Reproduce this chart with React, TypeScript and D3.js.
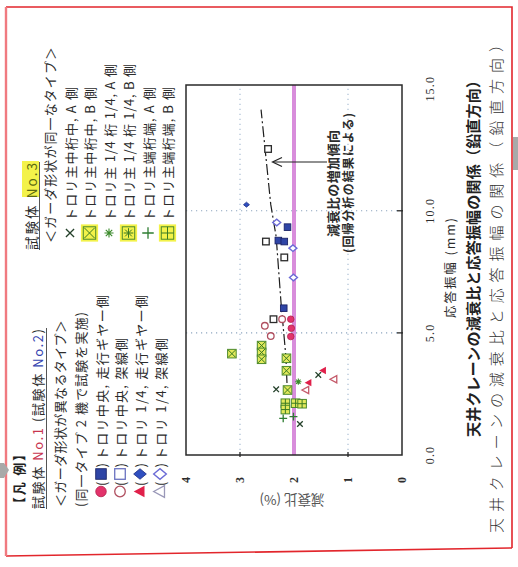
import React from "react";
import * as d3 from "d3";

// ---------- data ----------
const ampTicks = [0, 5, 10, 15];
const ampTickLabels = ["0.0", "5.0", "10.0", "15.0"];
const dampTicks = [0, 1, 2, 3, 4];
const dampTickLabels = ["0", "1", "2", "3", "4"];
const gridAmp = [5, 10];
const gridDamp = [1, 3];
const refDamping = 2;

// series: response amplitude (mm) / damping ratio (%)
const filledCircleAmp = [5.56, 5.19, 4.85];
const filledCircleDamp = [2.06, 2.05, 2.06];
const openCircleAmp = [5.56, 5.29, 4.87];
const openCircleDamp = [2.22, 2.54, 2.43];
const filledSquareAmp = [9.33, 8.78, 8.74, 6.01];
const filledSquareDamp = [2.12, 2.29, 2.18, 2.19];
const openSquareAmp = [12.53, 8.74, 8.09, 5.56];
const openSquareDamp = [2.48, 2.52, 2.18, 2.38];
const filledDiamondAmp = [10.25];
const filledDiamondDamp = [2.88];
const openDiamondAmp = [9.52, 8.47, 7.27];
const openDiamondDamp = [2.32, 2.02, 2.01];
const filledTriAmp = [3.46, 2.96];
const filledTriDamp = [1.46, 1.73];
const openTriAmp = [3.1, 2.66];
const openTriDamp = [1.26, 1.78];
const crossAmp = [3.28, 2.69, 1.27];
const crossDamp = [1.55, 2.33, 1.89];
const boxCrossAmp = [4.15, 4.48, 4.2, 3.92, 3.96, 3.45, 2.66];
const boxCrossDamp = [3.15, 2.6, 2.6, 2.6, 2.14, 2.14, 2.12];
const asteriskAmp = [3.0];
const asteriskDamp = [1.92];
const boxPlusAmp = [2.12, 1.86, 2.12, 2.1];
const boxPlusDamp = [2.16, 2.16, 1.97, 1.85];
const plusAmp = [1.5, 1.57];
const plusDamp = [2.2, 2.01];

// regression trend
const trendAmp = [2.95, 4.02, 5.25, 6.23, 8.93, 10.25, 14.14];
const trendDamp = [2.13, 2.15, 2.2, 2.24, 2.33, 2.43, 2.61];

const legend1Rows = [
  "トロリ中央, 走行ギヤー側",
  "トロリ中央, 架線側",
  "トロリ 1/4, 走行ギヤー側",
  "トロリ 1/4, 架線側",
];
const legend1Symbols = [
  ["circleFilled", "squareFilled"],
  ["circleOpen", "squareOpen"],
  ["triFilled", "diamondFilled"],
  ["triOpen", "diamondOpen"],
];
const legend3Rows = [
  "トロリ主中桁中, A 側",
  "トロリ主中桁中, B 側",
  "トロリ主 1/4 桁 1/4, A 側",
  "トロリ主 1/4 桁 1/4, B 側",
  "トロリ主端桁端, A 側",
  "トロリ主端桁端, B 側",
];
const legend3Symbols = ["cross", "boxCross", "asterisk", "boxAsterisk", "plus", "boxPlus"];

const JP = "'Noto Sans CJK JP', 'Noto Sans', sans-serif";
const NUM = "'Liberation Serif', 'DejaVu Serif', serif";

function Mark({ type, x, y, k = 1, hl = false }: { type: string; x: number; y: number; k?: number; hl?: boolean }) {
  const s = 3.3 * k;
  const crossPath = (r: number) => `M${x - r},${y - r}L${x + r},${y + r}M${x + r},${y - r}L${x - r},${y + r}`;
  const plusPath = (r: number) => `M${x - r},${y}L${x + r},${y}M${x},${y - r}L${x},${y + r}`;
  const astPath = (r: number) => {
    let d = "";
    for (let i = 0; i < 4; i++) {
      const a = (i * Math.PI) / 4;
      d += `M${x - r * Math.cos(a)},${y - r * Math.sin(a)}L${x + r * Math.cos(a)},${y + r * Math.sin(a)}`;
    }
    return d;
  };
  const box = (inner: string) => (
    <g>
      {hl && <rect x={x - s * 1.8} y={y - s * 1.8} width={s * 3.6} height={s * 3.6} fill="#f3f24a" />}
      <rect x={x - s * 1.3} y={y - s * 1.3} width={s * 2.6} height={s * 2.6} fill={hl ? "#f3f24a" : "#e2e95c"} stroke="#4c8a2c" strokeWidth={1} />
      <path d={inner} stroke="#3a7a22" strokeWidth={1} fill="none" />
    </g>
  );
  switch (type) {
    case "circleFilled":
      return <circle cx={x} cy={y} r={s} fill="#e2336b" stroke="#b3214d" strokeWidth={0.8} />;
    case "circleOpen":
      return <circle cx={x} cy={y} r={s} fill="#fff" stroke="#b05060" strokeWidth={1.3} />;
    case "squareFilled":
      return <rect x={x - s} y={y - s} width={2 * s} height={2 * s} fill="#2f45a6" stroke="#1c2468" strokeWidth={0.9} />;
    case "squareOpen":
      return <rect x={x - s} y={y - s} width={2 * s} height={2 * s} fill="#fff" stroke={k > 1.2 ? "#6a72c0" : "#2b2b2b"} strokeWidth={1.3} />;
    case "diamondFilled":
      return <path d={`M${x},${y - s * 1.2}L${x + s},${y}L${x},${y + s * 1.2}L${x - s},${y}Z`} fill="#2f4fc0" stroke="#1d2c80" strokeWidth={0.8} />;
    case "diamondOpen":
      return <path d={`M${x},${y - s * 1.2}L${x + s},${y}L${x},${y + s * 1.2}L${x - s},${y}Z`} fill="#fff" stroke="#6b6bd6" strokeWidth={1.4} />;
    case "triFilled":
      return <path d={`M${x},${y - s * 1.2}L${x + s * 1.1},${y + s * 0.85}L${x - s * 1.1},${y + s * 0.85}Z`} fill="#e0204a" />;
    case "triOpen":
      return <path d={`M${x},${y - s * 1.2}L${x + s * 1.1},${y + s * 0.85}L${x - s * 1.1},${y + s * 0.85}Z`} fill="#fff" stroke={k > 1.2 ? "#9a98b8" : "#c45a6a"} strokeWidth={1.3} />;
    case "cross":
      return <path d={crossPath(s * 0.85)} stroke="#24402a" strokeWidth={1.3} fill="none" />;
    case "plus":
      return <path d={plusPath(s * 1.2)} stroke="#2e7d32" strokeWidth={1.3} fill="none" />;
    case "asterisk":
      return <path d={astPath(s * 0.95)} stroke="#3a8a2a" strokeWidth={1.1} fill="none" />;
    case "boxCross":
      return box(crossPath(s * 1.1));
    case "boxPlus":
      return box(plusPath(s * 1.3));
    case "boxAsterisk":
      return box(astPath(s * 1.0));
    default:
      return null;
  }
}

export default function App() {
  // unrotated chart coordinates (page is rotated -90deg afterwards)
  const xA = d3.scaleLinear().domain([0, 15.15]).range([112, 482]);
  const yD = d3.scaleLinear().domain([0, 4]).range([402, 186]);

  const trendPath = d3
    .line<number>()
    .x((d) => xA(d))
    .y((_, i) => yD(trendDamp[i]))(trendAmp) as string;

  const series: [string, number[], number[], number][] = [
    ["boxCross", boxCrossAmp, boxCrossDamp, 1],
    ["boxPlus", boxPlusAmp, boxPlusDamp, 1],
    ["squareOpen", openSquareAmp, openSquareDamp, 1],
    ["squareFilled", filledSquareAmp, filledSquareDamp, 1],
    ["circleOpen", openCircleAmp, openCircleDamp, 1],
    ["circleFilled", filledCircleAmp, filledCircleDamp, 1],
    ["diamondOpen", openDiamondAmp, openDiamondDamp, 1],
    ["diamondFilled", filledDiamondAmp, filledDiamondDamp, 0.75],
    ["triOpen", openTriAmp, openTriDamp, 1],
    ["triFilled", filledTriAmp, filledTriDamp, 1],
    ["cross", crossAmp, crossDamp, 1],
    ["asterisk", asteriskAmp, asteriskDamp, 1],
    ["plus", plusAmp, plusDamp, 1],
  ];

  const x0 = xA(0), x1 = xA(15.15), yTop = yD(4), yBot = yD(0);
  const txt = "#2c2c2c";

  return (
    <svg width={518} height={567} style={{ position: "absolute", left: 0, top: 0, background: "#fff" }}>
      <rect x={0} y={0} width={518} height={567} fill="#fff" />
      {/* page border */}
      <path d="M6,7L512,7L512,548" fill="none" stroke="#e2262c" strokeWidth={1.6} />
      <path d="M512,548L6,556" fill="none" stroke="#e2262c" strokeWidth={1.6} />
      <path d="M6,7L6,556" fill="none" stroke="#f07a80" strokeWidth={2.4} />
      <rect x={513} y={137} width={5} height={33} fill="#a9a9a9" />
      <path d="M0,463L4,463L9,470L4,478L0,478Z" fill="#a9a9a9" />

      <g transform="translate(0,567) rotate(-90)">
        {/* grid */}
        {gridDamp.map((d) => (
          <line key={"gd" + d} x1={x0} x2={x1} y1={yD(d)} y2={yD(d)} stroke="#a3b8d0" strokeWidth={1.1} strokeDasharray="1.2 3.8" />
        ))}
        {gridAmp.map((a) => (
          <line key={"ga" + a} x1={xA(a)} x2={xA(a)} y1={yTop} y2={yBot} stroke="#8fa6c0" strokeWidth={1.1} strokeDasharray="1.2 3.8" />
        ))}
        {/* reference line */}
        <line x1={x0} x2={x1} y1={yD(refDamping)} y2={yD(refDamping)} stroke="#d88ddb" strokeWidth={4} />
        {/* frame */}
        <rect x={x0} y={yTop} width={x1 - x0} height={yBot - yTop} fill="none" stroke="#2a2a2a" strokeWidth={1.5} />
        {/* ticks */}
        {gridDamp.map((d) => (
          <line key={"td" + d} x1={x0 - 2} x2={x0 + 3} y1={yD(d)} y2={yD(d)} stroke="#2a2a2a" strokeWidth={1.3} />
        ))}
        {gridAmp.map((a) => (
          <line key={"ta" + a} x1={xA(a)} x2={xA(a)} y1={yBot - 5} y2={yBot + 1} stroke="#2a2a2a" strokeWidth={1.3} />
        ))}
        {/* tick labels */}
        {ampTicks.map((a, i) => (
          <text key={"la" + a} x={xA(a)} y={430} textAnchor="middle" dominantBaseline="central" fontFamily={NUM} fontSize={12} letterSpacing={1.2} fill={txt}>
            {ampTickLabels[i]}
          </text>
        ))}
        {dampTicks.map((d, i) => (
          <text key={"ld" + d} x={87} y={yD(d)} textAnchor="middle" dominantBaseline="central" fontFamily={NUM} fontSize={12} fontWeight="bold" fill={txt}>
            {dampTickLabels[i]}
          </text>
        ))}
        {/* axis titles */}
        <text transform="translate(66,292) rotate(-90)" textAnchor="middle" dominantBaseline="central" fontFamily={JP} fontSize={13.5} fill="#555">
          減衰比 (%)
        </text>
        <text x={299} y={449} textAnchor="middle" dominantBaseline="central" fontFamily={JP} fontSize={12.5} fill={txt} textLength={100} lengthAdjust="spacing">
          応答振幅 (mm)
        </text>

        {/* trend line */}
        <path d={trendPath} fill="none" stroke="#1e1e1e" strokeWidth={1.2} strokeDasharray="11 3 2 3" />

        {/* markers */}
        {series.map(([type, amps, damps, k], si) =>
          amps.map((a, i) => <Mark key={si + "-" + i} type={type} x={xA(a)} y={yD(damps[i])} k={k} />)
        )}

        {/* annotation */}
        <line x1={405} x2={405} y1={327} y2={273} stroke="#222" strokeWidth={1.2} />
        <path d="M400.5,282L405,272.5L409.5,282" fill="none" stroke="#222" strokeWidth={1.2} />
        <text x={383.5} y={332} textAnchor="middle" dominantBaseline="central" fontFamily={JP} fontSize={13} fontWeight="bold" fill={txt} textLength={107} lengthAdjust="spacing">
          減衰比の増加傾向
        </text>
        <text x={384} y={347.5} textAnchor="middle" dominantBaseline="central" fontFamily={JP} fontSize={12} fontWeight="bold" fill={txt} textLength={140} lengthAdjust="spacing">
          (回帰分析の結果による)
        </text>

        {/* captions */}
        <text x={312} y={472} textAnchor="middle" dominantBaseline="central" fontFamily={JP} fontSize={15} fontWeight="bold" fill="#222" textLength={364} lengthAdjust="spacing">
          天井クレーンの減衰比と応答振幅の関係（鉛直方向）
        </text>
        <text x={282} y={495} textAnchor="middle" dominantBaseline="central" fontFamily={JP} fontSize={15} fontWeight={300} fill="#333" textLength={496} lengthAdjust="spacing">
          天井クレーンの減衰比と応答振幅の関係（鉛直方向）
        </text>

        {/* legend block 1 */}
        <text x={57} y={18} dominantBaseline="central" fontFamily={JP} fontSize={13} fontWeight="bold" fill="#222" textLength={62} lengthAdjust="spacing">
          【凡 例】
        </text>
        <text x={58} y={37} dominantBaseline="central" fontFamily={JP} fontSize={13} fill={txt} textLength={180} lengthAdjust="spacing">
          試験体 <tspan fill="#c8344e">No.1</tspan> (試験体 <tspan fill="#3545b0">No.2</tspan>)
        </text>
        <line x1={58} x2={239} y1={46.5} y2={46.5} stroke="#555" strokeWidth={1} />
        <text x={60} y={59} dominantBaseline="central" fontFamily={JP} fontSize={13} fill={txt} textLength={187} lengthAdjust="spacing">
          ＜ガーダ形状が異なるタイプ＞
        </text>
        <text x={60} y={80} dominantBaseline="central" fontFamily={JP} fontSize={13} fill={txt} textLength={195} lengthAdjust="spacing">
          (同一タイプ 2 機で試験を実施)
        </text>
        {legend1Rows.map((r, i) => {
          const yy = [101, 120, 140, 160][i];
          return (
            <g key={"l1" + i}>
              <Mark type={legend1Symbols[i][0]} x={75.5} y={yy} k={1.6} />
              <text x={81} y={yy} dominantBaseline="central" fontFamily={JP} fontSize={13} fill={txt}>(</text>
              <Mark type={legend1Symbols[i][1]} x={93} y={yy} k={1.6} />
              <text x={99.5} y={yy} dominantBaseline="central" fontFamily={JP} fontSize={13} fill={txt}>)</text>
              <text x={107} y={yy} dominantBaseline="central" fontFamily={JP} fontSize={13} fill={txt} textLength={i % 2 === 0 ? 165 : 122} lengthAdjust="spacing">
                {r}
              </text>
            </g>
          );
        })}

        {/* legend block 2 */}
        <rect x={370} y={22} width={36} height={17} fill="#f3f24a" />
        <text x={317} y={31} dominantBaseline="central" fontFamily={JP} fontSize={13.5} fill={txt} textLength={87} lengthAdjust="spacing">
          試験体 <tspan fill="#5a6a10">No.3</tspan>
        </text>
        <line x1={317} x2={405} y1={39.5} y2={39.5} stroke="#555" strokeWidth={1} />
        <text x={324} y={49} dominantBaseline="central" fontFamily={JP} fontSize={13} fill={txt} textLength={196} lengthAdjust="spacing">
          ＜ガーダ形状が同一なタイプ＞
        </text>
        {legend3Rows.map((r, i) => {
          const yy = 70 + i * 19.5;
          return (
            <g key={"l3" + i}>
              <Mark type={legend3Symbols[i]} x={334} y={yy} k={1.45} hl={i % 2 === 1} />
              <text x={346} y={yy} dominantBaseline="central" fontFamily={JP} fontSize={13} fill={txt} textLength={i === 2 || i === 3 ? 157 : 134} lengthAdjust="spacing">
                {r}
              </text>
            </g>
          );
        })}
      </g>
    </svg>
  );
}
